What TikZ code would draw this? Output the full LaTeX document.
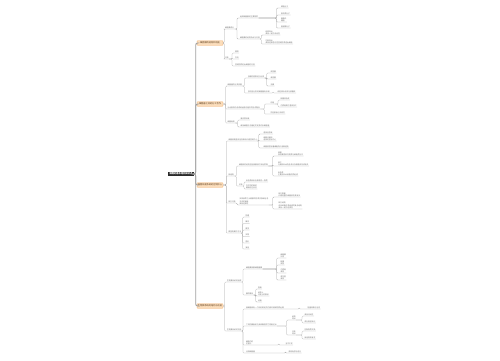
\documentclass[tikz,border=0pt]{standalone}
\usepackage{fontspec}
\setmainfont{Noto Sans CJK SC}
\usepackage{xcolor}
\usetikzlibrary{positioning}
\definecolor{rootgray}{HTML}{2B2B2B}
\definecolor{topicfill}{HTML}{FBDDBB}
\definecolor{topicdraw}{HTML}{F0AA66}
\definecolor{topictext}{HTML}{5A3A1A}
\definecolor{linegray}{HTML}{A5A5A5}
\definecolor{spinegray}{HTML}{A0A0A0}
\definecolor{leaftext}{HTML}{707070}
\tikzstyle{rootbox} = [rectangle, fill=rootgray, text=white, minimum width=26pt, minimum height=4.5pt, inner sep=0.5pt, font=\fontsize{2.3}{2.8}\selectfont\bfseries]
\tikzstyle{topic} = [rectangle, rounded corners=0.6pt, fill=topicfill, draw=topicdraw, line width=0.3pt, text=topictext, minimum width=26pt, minimum height=4.5pt, inner sep=0.5pt, font=\fontsize{2.2}{2.7}\selectfont]
\tikzstyle{leaf} = [anchor=south west, yshift=-1.1pt, inner sep=0.3pt, align=left, text=leaftext, font=\fontsize{1.8}{2.4}\selectfont]
\tikzstyle{link} = [draw=linegray, line width=0.25pt, rounded corners=1pt]
\tikzstyle{spine} = [draw=spinegray, line width=0.9pt, rounded corners=2pt]
\newcommand\branch[3]{\foreach \kid in {#3}{\draw[link] (#1) -- ++(#2,0) |- (\kid.south west) -- (\kid.south east);}}

\begin{document}
\begin{tikzpicture}[x=1pt, y=-1pt]
    \useasboundingbox (0,0) rectangle (500,360);
    \node (root) [rootbox] at (181,174) {细胞的基本结构知识点};
    \node (t1) [topic] at (210,43) {细胞膜的结构和功能};
    \node (t2) [topic] at (210,104) {细胞器之间的分工合作};
    \node (t3) [topic] at (210,185) {细胞核是系统的控制中心};
    \node (t4) [topic] at (210,306) {生物膜系统的结构与功能};
    \foreach \t in {t1,t2,t3,t4}
        \draw [spine] (root.east) -- ++(1.5,0) |- (\t.west);

    % first topic
    \node (a1) [leaf] at (224.5,28) {细胞膜成分};
    \node (a2) [leaf] at (224.5,58) {功能};
    \node (a11) [leaf] at (239.5,17) {组成细胞膜的主要物质};
    \node (a12) [leaf] at (239.5,38) {细胞膜的结构特点与功能};
    \node (a111) [leaf] at (280.5,7) {磷脂分子};
    \node (a112) [leaf] at (280.5,14) {蛋白质分子};
    \node (a113) [leaf] at (280.5,21) {糖蛋白\\糖脂};
    \node (a114) [leaf] at (280.5,27) {胆固醇分子};
    \node (a121) [leaf] at (265,34) {结构特点\\具有一定的流动性};
    \node (a122) [leaf] at (265,43) {功能特点\\具有选择透过性控制物质进出细胞};
    \node (a21) [leaf] at (234.5,52) {屏障};
    \node (a22) [leaf] at (234.5,58) {交流};
    \node (a23) [leaf] at (234.5,65) {控制物质进出细胞的功能};
    \branch{t1.east}{1}{a1,a2}
    \branch{a1.south east}{2.5}{a11,a12}
    \branch{a11.south east}{18}{a111,a112,a113,a114}
    \branch{a12.south east}{1}{a121,a122}
    \branch{a2.south east}{3}{a21,a22,a23}

    % second topic
    \node (b1) [leaf] at (227,85) {细胞器的分类依据};
    \node (b2) [leaf] at (227,108) {分泌蛋白的合成和运输过程中的协调配合};
    \node (b3) [leaf] at (227,122) {细胞骨架};
    \node (b11) [leaf] at (247.5,77) {按膜的层数进行分类};
    \node (b12) [leaf] at (247.5,92) {按功能分类的细胞器有多种};
    \node (b111) [leaf] at (270,72) {双层膜};
    \node (b112) [leaf] at (270,78) {单层膜};
    \node (b113) [leaf] at (270,85) {无膜};
    \node (b121) [leaf] at (277,92) {线粒体叶绿体与核糖体};
    \node (b21) [leaf] at (270,103) {过程};
    \node (b22) [leaf] at (270,113) {同位素标记法研究};
    \node (b211) [leaf] at (280,99) {核糖体合成};
    \node (b212) [leaf] at (280,106) {内质网高尔基体加工};
    \node (b31) [leaf] at (240,119) {蛋白质纤维};
    \node (b32) [leaf] at (240,126) {维持细胞形态锚定并支撑许多细胞器};
    \branch{t2.east}{2.5}{b1,b2,b3}
    \branch{b1.south east}{2}{b11,b12}
    \branch{b11.south east}{2}{b111,b112,b113}
    \branch{b12.south east}{3}{b121}
    \branch{b2.south east}{4}{b21,b22}
    \branch{b21.south east}{3.5}{b211,b212}
    \branch{b3.south east}{2.5}{b31,b32}

    % third topic
    \node (c1) [leaf] at (228,140) {细胞核是遗传信息库和代谢控制中心};
    \node (c11) [leaf] at (263,133) {遗传信息库};
    \node (c12) [leaf] at (263,140) {细胞代谢和\\遗传的控制中心};
    \node (c13) [leaf] at (263,147) {细胞核控制着细胞的代谢和遗传};
    \node (c2) [leaf] at (228,175) {核结构};
    \node (c21) [leaf] at (238.5,165) {细胞核的结构包括核膜核仁染色质等};
    \node (c211) [leaf] at (277.5,155) {核膜\\双层膜把核内物质与细胞质分开};
    \node (c212) [leaf] at (277.5,165) {核仁\\与某种RNA的合成以及核糖体形成有关};
    \node (c213) [leaf] at (277.5,175) {染色质\\主要由DNA和蛋白质组成};
    \node (c22) [leaf] at (238.5,185) {关系};
    \node (c221) [leaf] at (245.5,181) {染色质和染色体是同一物质};
    \node (c222) [leaf] at (245.5,188) {在不同时期的\\两种存在状态};
    \node (c3) [leaf] at (228,202) {核孔功能};
    \node (c31) [leaf] at (239,204) {实现核质之间频繁的物质交换和信息\\交流的通道\\具有选择性};
    \node (c311) [leaf] at (278,196) {核孔数量\\代谢旺盛的细胞核孔数目多};
    \node (c312) [leaf] at (278,208) {核孔结构\\由多种蛋白质组成的复合结构\\具有一定的选择性};
    \node (c4) [leaf] at (228,232) {模型构建的方法};
    \node (c41) [leaf] at (245,216) {物理};
    \node (c42) [leaf] at (245,222.5) {概念};
    \node (c43) [leaf] at (245,229) {数学};
    \node (c44) [leaf] at (245,235.5) {实物};
    \node (c45) [leaf] at (245,242) {图片};
    \node (c46) [leaf] at (245,248) {其他};
    \branch{t3.east}{3}{c1,c2,c3,c4}
    \branch{c1.south east}{1}{c11,c12,c13}
    \branch{c2.south east}{2}{c21,c22}
    \branch{c21.south east}{4.5}{c211,c212,c213}
    \branch{c22.south east}{1}{c221,c222}
    \branch{c3.south east}{1}{c31}
    \branch{c31.south east}{4}{c311,c312}
    \branch{c4.south east}{1}{c41,c42,c43,c44,c45,c46}

    % fourth topic
    \node (d1) [leaf] at (226.5,281) {生物膜系统的组成};
    \node (d11) [leaf] at (245.5,268) {细胞膜核膜细胞器膜};
    \node (d111) [leaf] at (280,257) {细胞膜\\外层};
    \node (d112) [leaf] at (280,264) {核膜\\双层};
    \node (d113) [leaf] at (280,272) {内质网\\单层};
    \node (d114) [leaf] at (280,279) {高尔基\\单层};
    \node (d12) [leaf] at (245.5,294) {膜的联系};
    \node (d121) [leaf] at (257.5,288) {直接};
    \node (d122) [leaf] at (257.5,295) {结构上\\功能上的联系};
    \node (d123) [leaf] at (257.5,301) {间接};
    \node (d2) [leaf] at (226.5,330) {生物膜系统的功能};
    \node (d21) [leaf] at (245.5,308) {使细胞具有一个相对稳定的内部环境和物质运输};
    \node (d211) [leaf] at (307,308) {能量转换与信息};
    \node (d22) [leaf] at (245.5,325) {广阔的膜面积为多种酶提供了附着位点};
    \node (d221) [leaf] at (291.5,319) {结构\\特点};
    \node (d222) [leaf] at (291.5,334) {功能\\特点};
    \node (d2211) [leaf] at (304,315) {具有流动性};
    \node (d2212) [leaf] at (304,322) {成分相互转化};
    \node (d2221) [leaf] at (304,330) {控制物质交换};
    \node (d2222) [leaf] at (304,338) {保证高效有序};
    \node (d23) [leaf] at (245.5,344) {细胞内的\\区室化};
    \node (d231) [leaf] at (285,344) {互不干扰};
    \node (d24) [leaf] at (245.5,352) {分隔细胞器};
    \node (d241) [leaf] at (288,352) {高效有序地进行};
    \branch{t4.east}{1.5}{d1,d2}
    \branch{d1.south east}{1}{d11,d12}
    \branch{d11.south east}{14}{d111,d112,d113,d114}
    \branch{d12.south east}{2}{d121,d122,d123}
    \branch{d2.south east}{1}{d21,d22,d23,d24}
    \branch{d21.south east}{15}{d211}
    \branch{d22.south east}{9.5}{d221,d222}
    \branch{d221.south east}{6}{d2211,d2212}
    \branch{d222.south east}{6}{d2221,d2222}
    \branch{d23.south east}{25}{d231}
    \branch{d24.south east}{30}{d241}
\end{tikzpicture}
\end{document}
